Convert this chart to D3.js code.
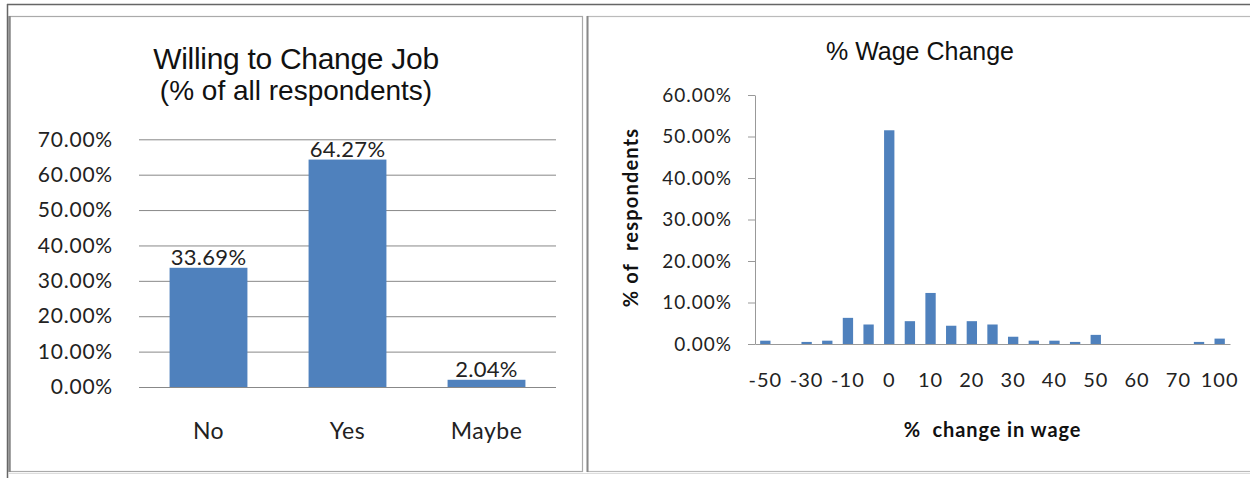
<!DOCTYPE html>
<html><head><meta charset="utf-8">
<script src="https://cdn.jsdelivr.net/npm/d3@7"></script>
<style>html,body{margin:0;padding:0;background:#fff;overflow:hidden}</style>
</head><body>
<script>
// ---- data ----
const jobCategories = ["No", "Yes", "Maybe"];
const jobValues = [33.69, 64.27, 2.04];
const jobTicks = [0, 10, 20, 30, 40, 50, 60, 70];

const wageCategories = ["-50","-40","-30","-20","-10","-5","0","5","10","15","20","25","30","35","40","45","50","55","60","65","70","80","100"];
const wageValues = [0.8, 0, 0.5, 0.8, 6.3, 4.7, 51.5, 5.5, 12.3, 4.4, 5.5, 4.7, 1.75, 0.8, 0.8, 0.5, 2.2, 0, 0, 0, 0, 0.5, 1.3];
const wageShownLabels = ["-50","-30","-10","0","10","20","30","40","50","60","70","100"];
const wageTicks = [0, 10, 20, 30, 40, 50, 60];

const W = 1250, H = 478;
const BLUE = "#4F81BD";
const CAL = "Lato, 'Open Sans', sans-serif";
const ARIAL = "'Liberation Sans', Arial, sans-serif";
const fmt = v => v.toFixed(2) + "%";

const svg = d3.select("body").append("svg").attr("width", W).attr("height", H);
svg.append("rect").attr("width", W).attr("height", H).attr("fill", "#fff");

// frame
svg.append("line").attr("x1", 7).attr("x2", W).attr("y1", 4.5).attr("y2", 4.5).attr("stroke", "#666").attr("stroke-width", 1.5);
svg.append("line").attr("x1", 7.5).attr("x2", 7.5).attr("y1", 4).attr("y2", H).attr("stroke", "#666").attr("stroke-width", 1.5);
svg.append("rect").attr("x", 9.5).attr("y", 16.5).attr("width", 573).attr("height", 455).attr("fill", "#fff").attr("stroke", "#aaa").attr("stroke-width", 1.2);
svg.append("line").attr("x1", 9.5).attr("x2", 9.5).attr("y1", 16).attr("y2", 472).attr("stroke", "#888").attr("stroke-width", 2.5);
svg.append("rect").attr("x", 587.5).attr("y", 16.5).attr("width", 680).attr("height", 455).attr("fill", "#fff").attr("stroke", "#bbb").attr("stroke-width", 1.2);
svg.append("line").attr("x1", 587.5).attr("x2", 587.5).attr("y1", 16).attr("y2", 472).attr("stroke", "#888").attr("stroke-width", 2);
svg.append("line").attr("x1", 9).attr("x2", W).attr("y1", 473.5).attr("y2", 473.5).attr("stroke", "#ddd").attr("stroke-width", 1);

// ---- left chart ----
const L = {x0: 139, x1: 556, yTop: 139.3, yBot: 387};
const xL = d3.scaleBand().domain(jobCategories).range([L.x0, L.x1]).paddingInner(0.44).paddingOuter(0.22);
const yL = d3.scaleLinear().domain([0, 70]).range([L.yBot, L.yTop]);

const gL = svg.append("g");
gL.append("text").attr("x", 296).attr("y", 69).attr("text-anchor", "middle")
  .attr("font-family", ARIAL).attr("font-size", 30).attr("fill", "#111").attr("letter-spacing", -0.3).text("Willing to Change Job");
gL.append("text").attr("x", 296).attr("y", 100).attr("text-anchor", "middle")
  .attr("font-family", ARIAL).attr("font-size", 28).attr("fill", "#111").text("(% of all respondents)");

const yAxisL = d3.axisLeft(yL).tickValues(jobTicks).tickSize(-(L.x1 - L.x0)).tickPadding(26).tickFormat(fmt);
const axL = gL.append("g").attr("transform", `translate(${L.x0},0)`).call(yAxisL);
axL.select(".domain").remove();
axL.selectAll(".tick line").attr("stroke", "#888").attr("stroke-width", 1);
axL.selectAll(".tick text").attr("font-family", CAL).attr("font-size", 21).attr("letter-spacing", 0.8).attr("fill", "#222");

gL.selectAll("rect.bar").data(jobValues).join("rect").attr("class", "bar")
  .attr("x", (d, i) => xL(jobCategories[i])).attr("width", xL.bandwidth())
  .attr("y", d => yL(d)).attr("height", d => yL(0) - yL(d)).attr("fill", BLUE);
gL.selectAll("text.val").data(jobValues).join("text").attr("class", "val")
  .attr("x", (d, i) => xL(jobCategories[i]) + xL.bandwidth() / 2).attr("y", d => yL(d) - 3)
  .attr("text-anchor", "middle").attr("font-family", CAL).attr("font-size", 22).attr("letter-spacing", 0.3).attr("fill", "#222").text(fmt);

const xAxisL = d3.axisBottom(xL).tickSize(0).tickPadding(36);
const axLx = gL.append("g").attr("transform", `translate(0,${L.yBot})`).call(xAxisL);
axLx.select(".domain").remove();
axLx.selectAll(".tick text").attr("font-family", CAL).attr("font-size", 23).attr("letter-spacing", 0.5).attr("fill", "#222");

// ---- right chart ----
const R = {x0: 755, x1: 1230, yTop: 95, yBot: 344};
const xR = d3.scaleBand().domain(wageCategories).range([R.x0, R.x1]).paddingInner(0.5).paddingOuter(0.25);
const yR = d3.scaleLinear().domain([0, 60]).range([R.yBot, R.yTop]);

const gR = svg.append("g");
gR.append("text").attr("x", 920).attr("y", 60).attr("text-anchor", "middle")
  .attr("font-family", ARIAL).attr("font-size", 25).attr("fill", "#111").text("% Wage Change");

const yAxisR = d3.axisLeft(yR).tickValues(wageTicks).tickSize(7).tickSizeOuter(0).tickPadding(16).tickFormat(fmt);
const axR = gR.append("g").attr("transform", `translate(${R.x0},0)`).call(yAxisR);
axR.select(".domain").attr("stroke", "#999");
axR.selectAll(".tick line").attr("stroke", "#999");
axR.selectAll(".tick text").attr("font-family", CAL).attr("font-size", 19).attr("letter-spacing", 1).attr("fill", "#222");

gR.selectAll("rect.bar").data(wageValues).join("rect").attr("class", "bar")
  .attr("x", (d, i) => xR(wageCategories[i])).attr("width", xR.bandwidth())
  .attr("y", d => yR(d)).attr("height", d => yR(0) - yR(d)).attr("fill", BLUE);

const xAxisR = d3.axisBottom(xR).tickSize(0).tickSizeOuter(0).tickPadding(29)
  .tickFormat(d => wageShownLabels.includes(d) ? d : "");
const axRx = gR.append("g").attr("transform", `translate(0,${R.yBot})`).call(xAxisR);
axRx.select(".domain").attr("stroke", "#999");
axRx.selectAll(".tick text").attr("font-family", CAL).attr("font-size", 20).attr("letter-spacing", 1).attr("fill", "#222");

gR.append("text").attr("x", (R.x0 + R.x1) / 2).attr("y", 437).attr("text-anchor", "middle")
  .attr("font-family", CAL).attr("font-weight", "bold").attr("font-size", 20).attr("letter-spacing", 0.9).attr("fill", "#111")
  .attr("xml:space", "preserve").text("%  change in wage");
gR.append("text").attr("transform", `translate(638,${(R.yTop + R.yBot) / 2 - 2}) rotate(-90)`).attr("text-anchor", "middle")
  .attr("font-family", CAL).attr("font-weight", "bold").attr("font-size", 20).attr("letter-spacing", 1.2).attr("fill", "#111")
  .attr("xml:space", "preserve").text("% of  respondents");
</script>
</body></html>
